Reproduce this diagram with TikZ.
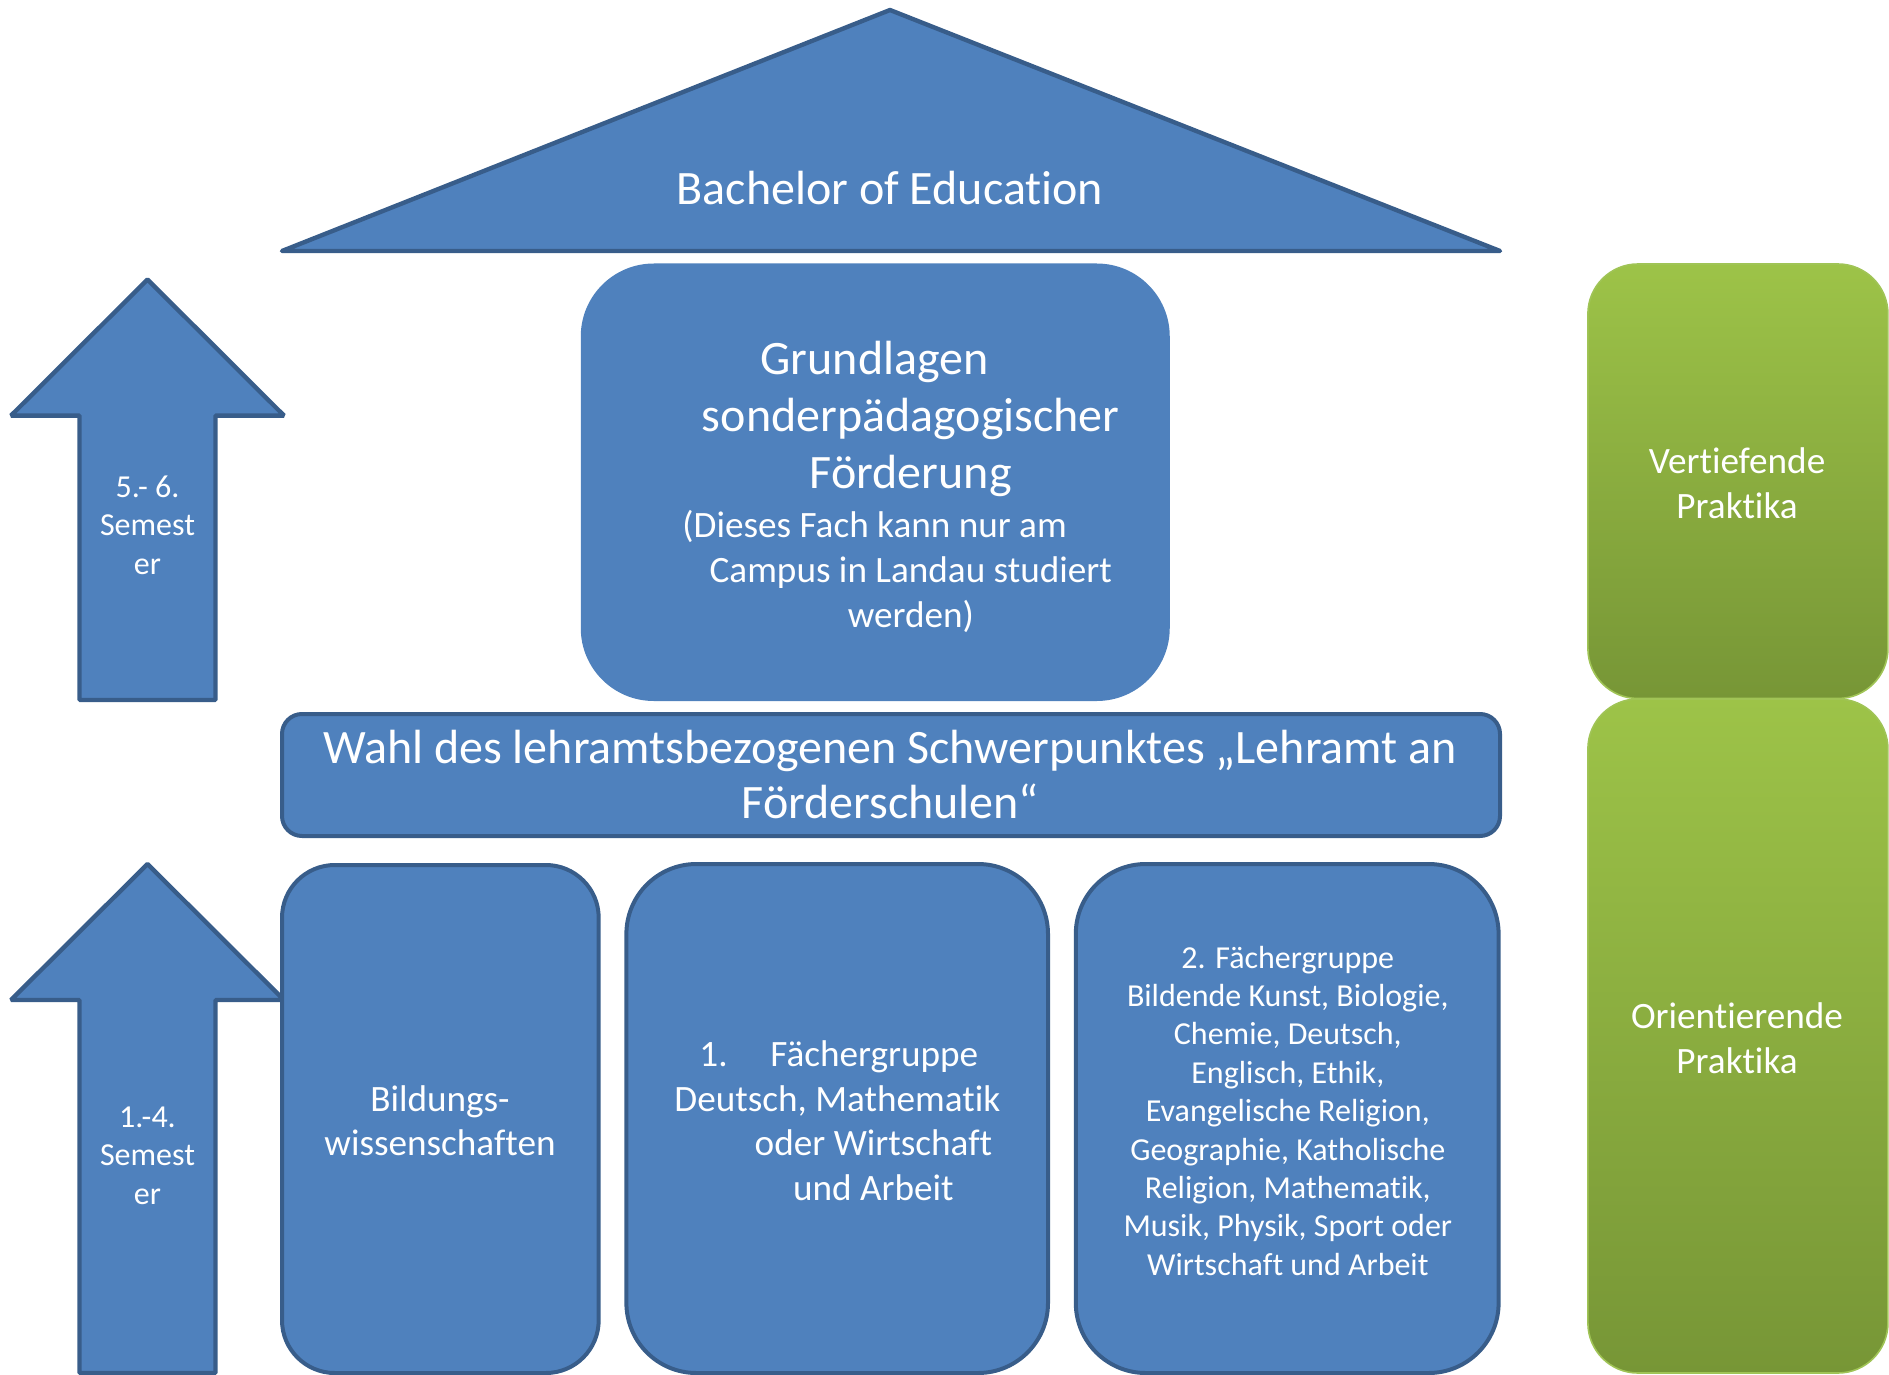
\documentclass[tikz,border=0pt]{standalone}
\usepackage{fontspec}
\setmainfont[Ligatures={NoCommon}]{Carlito}
\definecolor{bfill}{HTML}{4F81BD}
\definecolor{bline}{HTML}{385D8A}
\definecolor{gtop}{RGB}{157,195,72}
\definecolor{gbot}{RGB}{119,150,54}
\definecolor{gline}{RGB}{160,196,86}
\begin{document}
\begin{tikzpicture}[x=0.5pt,y=-0.5pt,
  bluebox/.style={rectangle, fill=bfill, draw=bline, line width=2pt, inner sep=0pt, outer sep=0pt},
  plainbox/.style={rectangle, fill=bfill, draw=none, inner sep=0pt, outer sep=0pt},
  greenbox/.style={rectangle, top color=gtop, bottom color=gbot, draw=gline, line width=0.8pt, inner sep=0pt, outer sep=0pt},
  bluepath/.style={fill=bfill, draw=bline, line width=2.2pt},
  lbl/.style={text=white, inner sep=0pt, anchor=base},
  bigtxt/.style={lbl, font=\fontsize{24pt}{28pt}\selectfont},
  medtxt/.style={lbl, font=\fontsize{18.6pt}{22pt}\selectfont},
  smalltxt/.style={lbl, font=\fontsize{16pt}{19pt}\selectfont}]
\useasboundingbox (0,0) rectangle (1889,1375);

% roof
\draw[bluepath, line join=round] (282,251) -- (890,10) -- (1500,251) -- cycle;
\node[bigtxt] (tbach) at (890,205) {Bachelor of Education};

% arrows
\draw[bluepath, line join=bevel] (147.5,279.5) -- (284,415.6) -- (215.5,415.6) -- (215.5,700) -- (79.5,700) -- (79.5,415.6) -- (11,415.6) -- cycle;
\draw[bluepath, line join=bevel] (147.5,864) -- (284,1000) -- (215.5,1000) -- (215.5,1373) -- (79.5,1373) -- (79.5,1000) -- (11,1000) -- cycle;
\node[smalltxt] (a1l1) at (147.5,497) {5.- 6.};
\node[smalltxt] (a1l2) at (147.5,535.5) {Semest};
\node[smalltxt] (a1l3) at (147.5,574) {er};
\node[smalltxt] (a2l1) at (147.5,1127) {1.-4.};
\node[smalltxt] (a2l2) at (147.5,1165.5) {Semest};
\node[smalltxt] (a2l3) at (147.5,1204) {er};

% Grundlagen
\node[plainbox, minimum width=294.5pt, minimum height=218.75pt, rounded corners=36.5pt] (grund) at (875.25,482.25) {};
\node[bigtxt] (g1) at (874.6,374) {Grundlagen};
\node[bigtxt] (g2) at (910.8,431) {sonderpädagogischer};
\node[bigtxt] (g3) at (910.8,488) {Förderung};
\node[medtxt] (g4) at (874.6,537) {(Dieses Fach kann nur am};
\node[medtxt] (g5) at (910.8,582) {Campus in Landau studiert};
\node[medtxt] (g6) at (910.8,627) {werden)};

% Wahl
\node[bluebox, minimum width=609pt, minimum height=61pt, rounded corners=10pt] (wahl) at (891,775) {};
\node[bigtxt] (w1) at (890,763) {Wahl des lehramtsbezogenen Schwerpunktes „Lehramt an};
\node[bigtxt] (w2) at (890,818.5) {Förderschulen“};

% bottom boxes
\node[bluebox, minimum width=158.35pt, minimum height=254pt, rounded corners=26.4pt] (boxa) at (440.35,1119) {};
\node[bluebox, minimum width=210.8pt, minimum height=254.5pt, rounded corners=35pt] (boxb) at (837.2,1118.5) {};
\node[bluebox, minimum width=211.4pt, minimum height=254.5pt, rounded corners=35pt] (boxc) at (1287.2,1118.5) {};

\node[medtxt] (a1) at (440,1111) {Bildungs-};
\node[medtxt] (a2) at (440,1155) {wissenschaften};

\node[medtxt, anchor=base west] (b1n) at (699,1066) {1.};
\node[medtxt, anchor=base west] (b1) at (770,1066) {Fächergruppe};
\node[medtxt] (b2) at (837.3,1111) {Deutsch, Mathematik};
\node[medtxt] (b3) at (873.4,1155) {oder Wirtschaft};
\node[medtxt] (b4) at (873.4,1200) {und Arbeit};

\node[smalltxt] (c1) at (1287.8,968) {2. Fächergruppe};
\node[smalltxt] (c2) at (1287.8,1006.4) {Bildende Kunst, Biologie,};
\node[smalltxt] (c3) at (1287.8,1044.8) {Chemie, Deutsch,};
\node[smalltxt] (c4) at (1287.8,1083.2) {Englisch, Ethik,};
\node[smalltxt] (c5) at (1287.8,1121.6) {Evangelische Religion,};
\node[smalltxt] (c6) at (1287.8,1160) {Geographie, Katholische};
\node[smalltxt] (c7) at (1287.8,1198.4) {Religion, Mathematik,};
\node[smalltxt] (c8) at (1287.8,1236.8) {Musik, Physik, Sport oder};
\node[smalltxt] (c9) at (1287.8,1275.2) {Wirtschaft und Arbeit};

% green boxes
\node[greenbox, minimum width=150pt, minimum height=217.25pt, rounded corners=25pt] (vert) at (1737.9,481.25) {};
\node[greenbox, minimum width=150pt, minimum height=337pt, rounded corners=25pt] (orient) at (1737.9,1036) {};
\node[medtxt] (v1) at (1737,473) {Vertiefende};
\node[medtxt] (v2) at (1737,518) {Praktika};
\node[medtxt] (o1) at (1737,1028) {Orientierende};
\node[medtxt] (o2) at (1737,1073) {Praktika};
\end{tikzpicture}
\end{document}
